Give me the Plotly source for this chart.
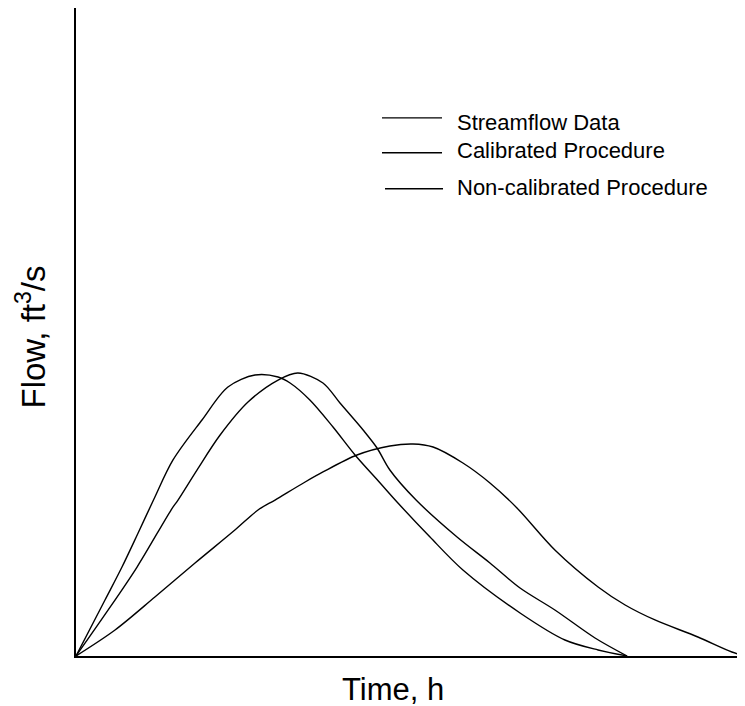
import plotly.graph_objects as go

# Time (h) and flow (ft3/s)
stream_t = [0, 1.04, 1.65, 2.22, 2.78, 3.48, 4.52, 5.45, 6.42, 7.25, 7.68, 8.39, 9.22,
            10.01, 10.91, 11.55, 12.70, 13.88, 15.93, 17.54, 18.73, 19.77]
stream_q = [0, 86.4, 137.3, 189.0, 240.7, 302.5, 364.2, 415.1, 433.6, 430.6, 421.3, 395.1,
            353.4, 310.2, 267.0, 236.1, 183.6, 132.7, 66.4, 24.7, 9.3, 0]

calib_t = [0, 1.08, 2.19, 3.41, 3.66, 4.34, 5.17, 6.17, 7.25, 7.96, 8.86, 9.47, 10.30, 10.80,
           11.26, 12.20, 13.67, 14.85, 15.93, 17.18, 18.62, 19.77]
calib_q = [0, 66.4, 137.3, 225.3, 240.7, 287.0, 341.0, 391.9, 425.9, 436.7, 421.3, 390.4, 348.8,
           321.0, 287.0, 240.7, 183.6, 143.5, 104.9, 71.0, 27.8, 0]

noncal_t = [0, 1.40, 2.83, 4.27, 5.70, 6.53, 7.14, 8.22, 8.86, 10.08, 11.26, 12.09, 12.81, 13.88,
            14.85, 15.82, 17.18, 18.73, 19.70, 20.77, 22.31, 23.53, 24.0]
noncal_q = [0, 40.1, 91.0, 143.5, 194.4, 225.3, 240.7, 268.5, 284.0, 310.2, 324.1, 327.2, 322.5,
            297.8, 267.0, 228.4, 163.6, 106.5, 78.7, 55.6, 29.3, 6.2, 0]

names = ["Streamflow Data", "Calibrated Procedure", "Non-calibrated Procedure"]

FONT = "Liberation Sans, Arial, sans-serif"
line_style = dict(color="black", width=1.4, shape="spline", smoothing=0.9)

fig = go.Figure()
for t, q, n in [(stream_t, stream_q, names[0]), (calib_t, calib_q, names[1]),
                (noncal_t, noncal_q, names[2])]:
    fig.add_trace(go.Scatter(x=t, y=q, mode="lines", name=n, line=line_style,
                             showlegend=False, cliponaxis=False))

# Custom legend (line samples + text)
leg_rows = [(0.8305, 0.8228, 0.4574, 0.5471), (0.7766, 0.7797, 0.4574, 0.5471),
            (0.7211, 0.7227, 0.4619, 0.5486)]
shapes = []
annotations = []
for (ly, ty, x0, x1), n in zip(leg_rows, names):
    shapes.append(dict(type="line", xref="paper", yref="paper", x0=x0, x1=x1, y0=ly, y1=ly,
                       line=dict(color="black", width=1.3)))
    annotations.append(dict(text=n, xref="paper", yref="paper", x=0.567, y=ty,
                            xanchor="left", yanchor="middle", showarrow=False,
                            font=dict(family=FONT, size=22, color="black")))

annotations.append(dict(text="Time, h", xref="paper", yref="paper", x=0.474, y=-0.052,
                        xanchor="center", yanchor="middle", showarrow=False,
                        font=dict(family=FONT, size=31, color="black")))
annotations.append(dict(text="Flow, ft<sup>3</sup>/s", xref="paper", yref="paper", x=-0.0673,
                        y=0.493, xanchor="center", yanchor="middle", textangle=-90,
                        showarrow=False, font=dict(family=FONT, size=33, color="black")))

# page body has an 8px margin, so the figure is sized/offset to land on the reference pixels
fig.update_layout(
    width=737, height=698,
    margin=dict(l=68, r=0, t=0, b=50),
    paper_bgcolor="white", plot_bgcolor="white",
    shapes=shapes, annotations=annotations,
    font=dict(family=FONT, color="black"),
)
fig.update_xaxes(range=[0, 24], showline=True, linecolor="black", linewidth=1.6,
                 showgrid=False, zeroline=False, showticklabels=False, ticks="")
fig.update_yaxes(range=[0, 1000], showline=True, linecolor="black", linewidth=1.6,
                 showgrid=False, zeroline=False, showticklabels=False, ticks="")

fig.write_html("out.html")
